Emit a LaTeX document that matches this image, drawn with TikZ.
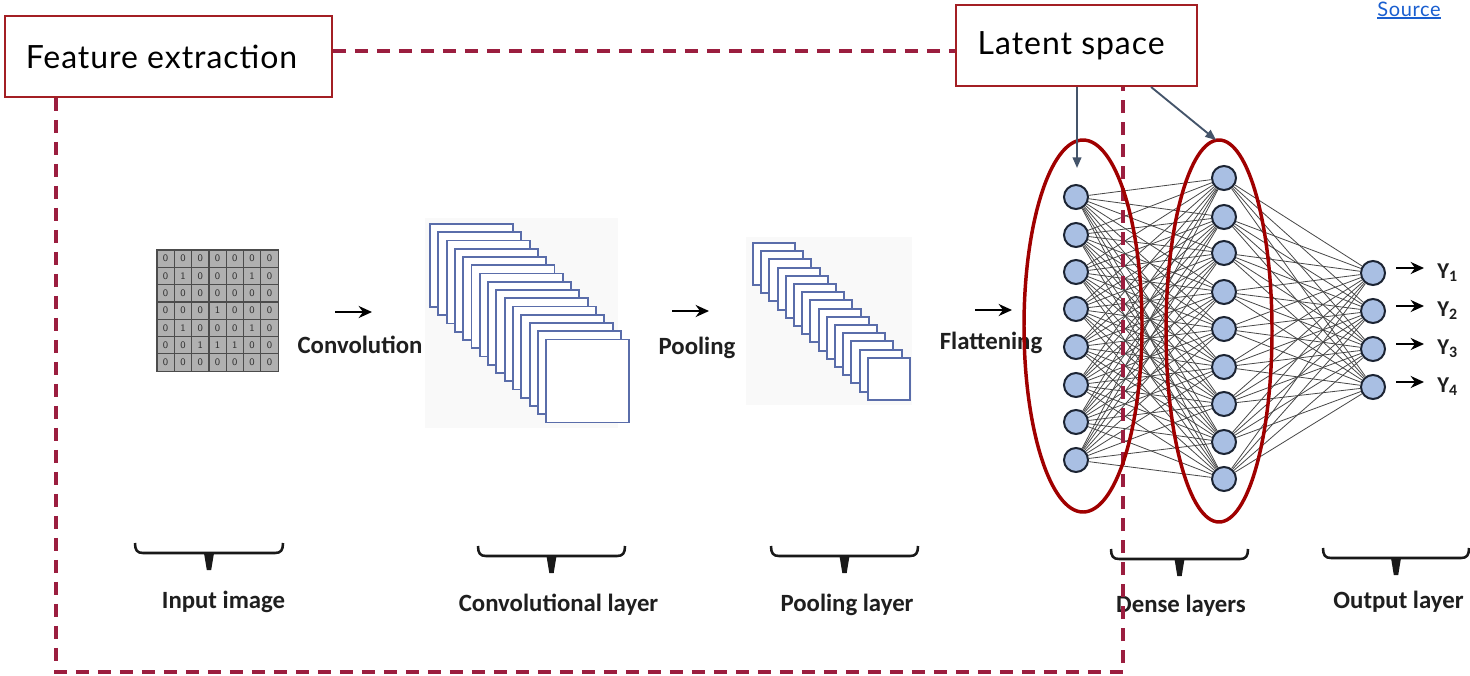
\documentclass[tikz,border=0pt]{standalone}
\usepackage{fontspec}
\setmainfont{Lato}
\newfontfamily\boxfont[LetterSpace=3]{Lato}
\newfontfamily\labelfont{Carlito}
\usetikzlibrary{arrows.meta}

\definecolor{boxred}{HTML}{A31F24}
\definecolor{framered}{HTML}{9B1E3F}
\definecolor{ringred}{HTML}{A00000}
\definecolor{slate}{HTML}{44546A}
\definecolor{fmapblue}{HTML}{5A6DAA}
\definecolor{neuronfill}{HTML}{A9BFE3}
\definecolor{neuronedge}{HTML}{1C2433}
\definecolor{linkblue}{HTML}{1A5FD0}
\definecolor{cellgray}{HTML}{B0B0B0}

\tikzset{
  titlebox/.style={draw=boxred, line width=1.4pt, fill=white, inner sep=0pt,
    font=\boxfont\fontsize{24}{28}\selectfont},
  framedash/.style={draw=framered, line width=2.8pt, dash pattern=on 9.75pt off 6.75pt},
  pointer/.style={draw=slate, line width=1.4pt, -{Triangle[length=8pt,width=6.5pt]}},
  ring/.style={draw=ringred, line width=2.6pt},
  fmap/.style={draw=fmapblue, line width=1.4pt, fill=white},
  cell/.style={draw=black!70, line width=0.9pt, fill=cellgray},
  digit/.style={inner sep=0pt, text=black!80, font=\sffamily\fontsize{7.5}{8}\selectfont},
  neuron/.style={circle, minimum size=18pt, inner sep=0pt, draw=neuronedge,
    line width=1.5pt, fill=neuronfill},
  wire/.style={draw=black!72, line width=0.6pt},
  flowarrow/.style={draw=black, line width=2.1pt, -{Stealth[length=10pt,width=9pt]}},
  steplabel/.style={inner sep=0pt, text=black!88,
    font=\labelfont\bfseries\fontsize{18.6}{21}\selectfont},
  outlabel/.style={inner sep=0pt, text=black!88,
    font=\labelfont\bfseries\fontsize{17}{19}\selectfont},
  brc/.style={draw=black!90, line width=1.9pt},
}

\begin{document}
\begin{tikzpicture}[x=0.75pt, y=-0.75pt]
\useasboundingbox[fill=white] (0,0) rectangle (1470,675);

% faint panels behind the feature-map stacks
\fill[black!2.5] (425,218) rectangle (618,428);
\fill[black!2.5] (746,237) rectangle (912,405);

% ---------- input image: 7x7 binary grid ----------
\foreach [count=\r from 0] \row in {{0,0,0,0,0,0,0},{0,1,0,0,0,1,0},{0,0,0,0,0,0,0},
  {0,0,0,1,0,0,0},{0,1,0,0,0,1,0},{0,0,1,1,1,0,0},{0,0,0,0,0,0,0}}{
  \foreach [count=\c from 0] \v in \row {
    \draw[cell] ({157+17.3*\c},{250+17.3*\r}) rectangle +(17.3,17.3);
    \node[digit] (g\r\c) at ({157+17.3*\c+8.65},{250+17.3*\r+8.65}) {\v};
  }
}

% ---------- convolutional feature maps ----------
\foreach \i in {0,...,14}
  \draw[fmap] ({430+8.3*\i},{224+8.25*\i}) rectangle +(83,83);

% ---------- pooled feature maps ----------
\foreach \i in {0,...,14}
  \draw[fmap] ({753+8.2*\i},{243+8.2*\i}) rectangle +(42,42);

% ---------- step labels with arrows ----------
\node[steplabel, anchor=base] (lconv) at (360,353) {Convolution};
\node[steplabel, anchor=base] (lpool) at (697,354) {Pooling};
\node[steplabel, anchor=base] (lflat) at (991,349) {Flattening};
\draw[flowarrow] (335,312) -- (372,312);
\draw[flowarrow] (672,311) -- (709,311);
\draw[flowarrow] (975,310) -- (1012,310);

% ---------- fully connected network ----------
\foreach \y [count=\k] in {197,235,272,309,347,385,422,460}
  \node[neuron] (h\k) at (1076,\y) {};
\foreach \y [count=\k] in {178,217,253,292,329,367,404,442,479}
  \node[neuron] (d\k) at (1224,\y) {};
\foreach \y [count=\k] in {273,311,349,387}
  \node[neuron] (o\k) at (1373,\y) {};

\foreach \a in {1,...,8}
  \foreach \b in {1,...,9}
    \draw[wire] (h\a) -- (d\b);
\foreach \a in {1,...,9}
  \foreach \b in {1,...,4}
    \draw[wire] (d\a) -- (o\b);

% outputs
\foreach \k in {1,...,4}{
  \node[outlabel, anchor=base west] (y\k) at ([xshift=48pt,yshift=-3.75pt]o\k.center) {Y\textsubscript{\k}};
  \draw[flowarrow] ([xshift=7.5pt,yshift=3.75pt]o\k.east) -- ++(21pt,0pt);
}

% ---------- braces and layer captions ----------
\foreach \a/\b/\t/\cap/\base/\dx/\nm in {
   135/283/543/Input image/608/14.5/capin,
   478/625/546/Convolutional layer/611/7/capconv,
   771/918/546/Pooling layer/611/2.5/cappool,
   1111/1248/549/Dense layers/612/1.5/capdense,
   1323/1469/548/Output layer/608/2.5/capout}{
  \pgfmathsetmacro{\m}{(\a+\b)/2}
  \pgfmathsetmacro{\l}{\t+10}
  \pgfmathsetmacro{\tip}{\t+27}
  \draw[brc] (\a,\t) .. controls (\a,\t+7) and (\a+2,\l) .. (\a+8,\l)
     -- (\b-8,\l) .. controls (\b-2,\l) and (\b,\t+7) .. (\b,\t);
  \fill[black!90] (\m-5,\l) -- (\m+5,\l) -- (\m+2.2,\tip) -- (\m-2.2,\tip) -- cycle;
  \node[steplabel, anchor=base] (\nm) at (\m+\dx,\base) {\cap};
}

% ---------- annotation boxes and feature-extraction frame ----------
\node[titlebox, minimum width=245.25pt, minimum height=60.75pt] (feat) at (168.5,56.5) {Feature extraction\hspace*{10.5pt}};
\node[titlebox, minimum width=180.75pt, minimum height=60.75pt] (latent) at (1076.5,45.5) {Latent space\hspace*{8pt}};

\coordinate (ty) at (0,51);
\coordinate (fl) at (56,0);
\coordinate (fr) at (1123,0);
\coordinate (fb) at (0,672);
\draw[framedash] (feat.east |- ty) -- (latent.west |- ty);
\draw[framedash] (feat.south -| fl) -- (fl |- fb) -- (fr |- fb) -- (latent.south -| fr);

% latent-space rings
\draw[ring] (1083,326) ellipse [x radius=44.25pt, y radius=139.5pt];
\draw[ring] (1219,331) ellipse [x radius=39.75pt, y radius=143.25pt];

% pointers from the latent-space label
\coordinate (p1) at (1077,168);
\coordinate (p2s) at (1151,0);
\coordinate (p2) at (1216,140);
\draw[pointer] (latent.south -| p1) -- (p1);
\draw[pointer] (latent.south -| p2s) -- (p2);

% source link
\node[inner sep=0pt, anchor=base, text=linkblue, font=\boxfont\fontsize{15}{17}\selectfont] (src) at (1409,16) {Source};
\draw[linkblue, line width=1.1pt] ([yshift=-1.4pt]src.base west) -- ([yshift=-1.4pt]src.base east);
\end{tikzpicture}
\end{document}
